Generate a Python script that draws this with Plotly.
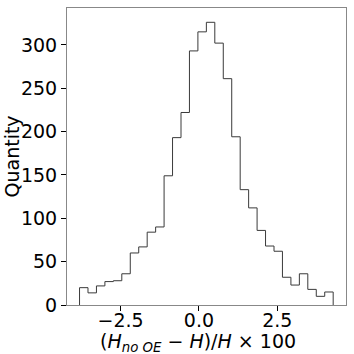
import numpy as np
import plotly.graph_objects as go

# step histogram, 30 bins
bin_start = -3.81
bin_width = 0.2697
counts = [20, 14, 22, 27, 28, 36, 60, 67, 84, 90,
          149, 193, 222, 293, 315, 326, 302, 261, 194, 133,
          112, 86, 68, 62, 32, 23, 36, 18, 10, 15]

edges = bin_start + bin_width * np.arange(len(counts) + 1)
xs = np.concatenate([[edges[0]], edges, [edges[-1]]])
ys = [0] + counts + [counts[-1], 0]

fig = go.Figure(go.Scatter(
    x=xs, y=ys,
    mode="lines", line_shape="hv",
    line=dict(color="#3a3a3a", width=1),
    showlegend=False, hoverinfo="skip"
))

font = dict(family="DejaVu Sans", size=19, color="black")

fig.update_layout(
    width=354, height=354,
    margin=dict(l=67, r=8, t=8, b=49),
    plot_bgcolor="white", paper_bgcolor="white",
    font=font,
)
fig.update_xaxes(
    range=[-4.21, 4.69], tickvals=[-2.5, 0, 2.5],
    ticktext=["\u22122.5", "0.0", "2.5"],
    showgrid=False, zeroline=False, automargin=False,
    ticks="outside", ticklen=5, tickwidth=1.2, tickcolor="black",
    ticklabelstandoff=-7,
    showline=True, linecolor="#888", linewidth=1, mirror=True,
)
fig.update_yaxes(
    range=[0, 342.5], tickvals=[0, 50, 100, 150, 200, 250, 300],
    showgrid=False, zeroline=False, automargin=False,
    ticks="outside", ticklen=5, tickwidth=1.2, tickcolor="black",
    showline=True, linecolor="#888", linewidth=1, mirror=True,
)

fig.add_annotation(
    text="(<i>H</i><sub><i>no OE</i></sub> \u2212 <i>H</i>)/<i>H</i> \u00d7 100",
    xref="paper", yref="paper", x=0.47, y=0, yshift=-37,
    xanchor="center", yanchor="middle", showarrow=False, font=font,
)
fig.add_annotation(
    text="Quantity", textangle=-90,
    xref="paper", yref="paper", x=0, y=0.5, xshift=-56,
    xanchor="center", yanchor="middle", showarrow=False, font=font,
)

# page body has a default 8px margin; drop it so the figure sits at 0,0
fig.write_html("out.html", config={"displayModeBar": False},
               post_script="document.body.style.margin='0';")
